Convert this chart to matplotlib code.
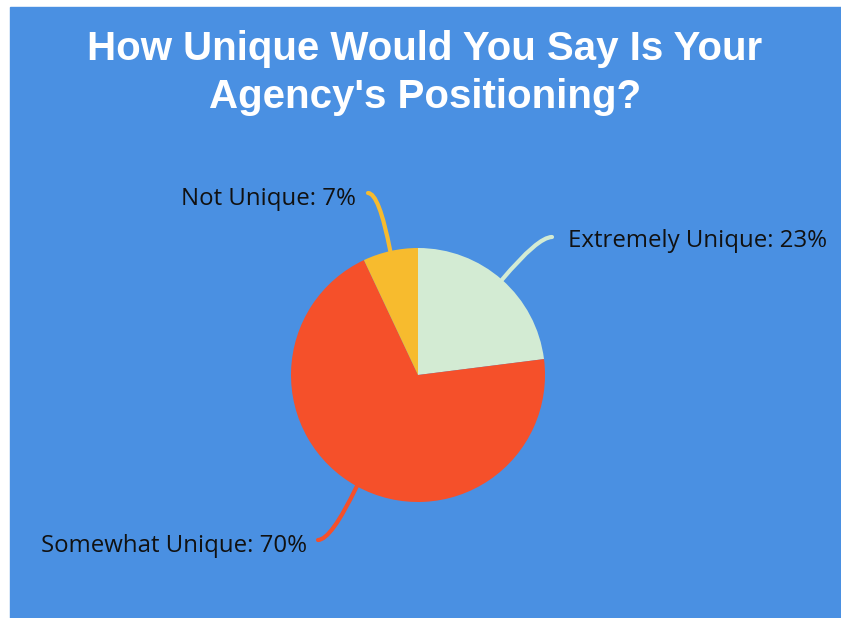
import numpy as np
import matplotlib.pyplot as plt
from matplotlib.path import Path
from matplotlib.patches import PathPatch, Rectangle

categories = ['Extremely Unique', 'Somewhat Unique', 'Not Unique']
shares = [23, 70, 7]
colors = ['#d3ebd3', '#f5502a', '#f7bb2e']
title = "How Unique Would You Say Is Your\nAgency's Positioning?"

W, H = 841, 618
fig = plt.figure(figsize=(W / 100, H / 100), dpi=100)
fig.patch.set_facecolor('white')
ax = fig.add_axes([0, 0, 1, 1])

# blue card behind everything
ax.add_patch(Rectangle((10, 0), W - 10, H - 7, color='#4a90e2', zorder=0))

cx, cy, r = 418, H - 375, 127
ax.pie(shares, colors=colors, startangle=90, counterclock=False,
       center=(cx, cy), radius=r, frame=True,
       wedgeprops=dict(linewidth=0))
ax.set_xlim(0, W)
ax.set_ylim(0, H)
ax.set_aspect('equal')
ax.axis('off')

# connector bends and label anchors (pixel offsets from the top)
bends = [((538, 237), (552, 237)), ((331, 540), (318, 540)), ((379, 193), (368, 193))]
label_pos = [(568, 241, 'left'), (307, 546, 'right'), (356, 199, 'right')]

cum = np.cumsum([0] + shares)
for i, (name, val) in enumerate(zip(categories, shares)):
    mid = (cum[i] + cum[i + 1]) / 2 / sum(shares) * 2 * np.pi
    sx, sy = cx + r * np.sin(mid), cy + r * np.cos(mid)
    (kx, ky), (ex, ey) = bends[i]
    verts = [(sx, sy), (kx, H - ky), (ex, H - ey)]
    path = Path(verts, [Path.MOVETO, Path.CURVE3, Path.CURVE3])
    ax.add_patch(PathPatch(path, fill=False, edgecolor=colors[i], lw=3,
                           capstyle='round', zorder=1))
    tx, ty, ha = label_pos[i]
    ax.text(tx, H - ty, f'{name}: {val}%', ha=ha, va='center',
            fontsize=17.3, family='Open Sans', color='#111111')

ax.text(425, H - 73, title, ha='center', va='center', color='white',
        fontsize=29, fontweight='bold', family='Liberation Sans',
        linespacing=1.3)

fig.savefig('out.png', dpi=100)
